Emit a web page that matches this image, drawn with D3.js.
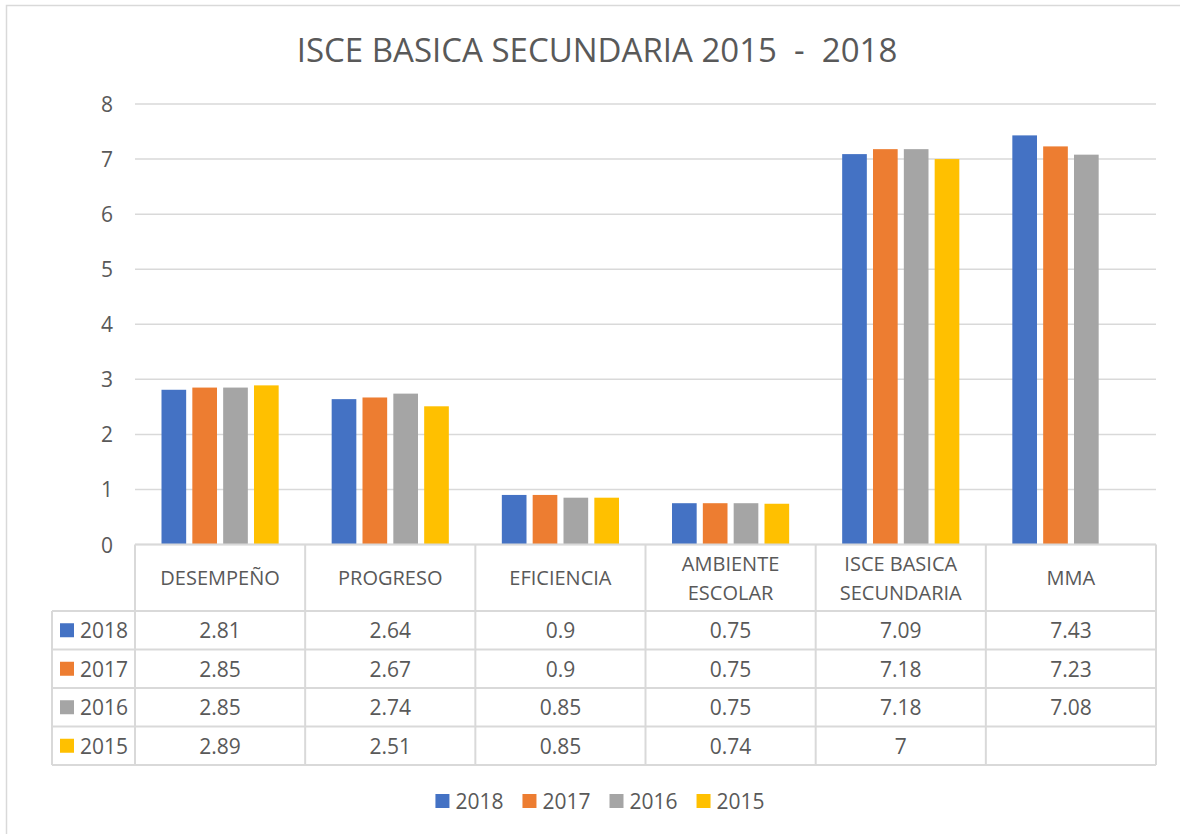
<!DOCTYPE html>
<html><head><meta charset="utf-8">
<script src="https://cdn.jsdelivr.net/npm/d3@7"></script>
<style>
body{margin:0;background:#fff}
svg{display:block}
text{font-family:"Open Sans",sans-serif;fill:#595959}
</style>
</head><body>
<svg id="c" width="1180" height="834"></svg>
<script>
const title = "ISCE BASICA SECUNDARIA 2015  -  2018";
const categories = ["DESEMPEÑO","PROGRESO","EFICIENCIA","AMBIENTE ESCOLAR","ISCE BASICA SECUNDARIA","MMA"];
const categoryLines = [["DESEMPEÑO"],["PROGRESO"],["EFICIENCIA"],["AMBIENTE","ESCOLAR"],["ISCE BASICA","SECUNDARIA"],["MMA"]];
const series = ["2018","2017","2016","2015"];
const values2018 = [2.81,2.64,0.9,0.75,7.09,7.43];
const values2017 = [2.85,2.67,0.9,0.75,7.18,7.23];
const values2016 = [2.85,2.74,0.85,0.75,7.18,7.08];
const values2015 = [2.89,2.51,0.85,0.74,7,null];
const colors = ["#4472C4","#ED7D31","#A5A5A5","#FFC000"];
const yTicks = [0,1,2,3,4,5,6,7,8];

const seriesValues = [values2018, values2017, values2016, values2015];
const data = [];
categories.forEach((c,i)=>series.forEach((s,j)=>{
  data.push({cat:c, ser:s, v:seriesValues[j][i], color:colors[j]});
}));

const svg = d3.select("#c");
const gridColor = "#d9d9d9";

// chart frame
svg.append("rect").attr("x",6.5).attr("y",5.5).attr("width",1300).attr("height",1000)
  .attr("fill","none").attr("stroke",gridColor).attr("stroke-width",1.5);

// title
svg.append("text").attr("x",597).attr("y",62).attr("text-anchor","middle")
  .style("font-size","33px").style("white-space","pre").text(title);

const left = 135, right = 1156;
const x0 = d3.scaleBand().domain(categories).range([left,right]).padding(0);
const x1 = d3.scaleBand().domain(series).range([26.5, x0.bandwidth()-26.5]).paddingInner(0.2).paddingOuter(0);
const y = d3.scaleLinear().domain([0,8]).range([544.5,104]);

// gridlines
svg.append("g").selectAll("line").data(yTicks).join("line")
  .attr("x1",left).attr("x2",right)
  .attr("y1",d=>y(d)).attr("y2",d=>y(d))
  .attr("stroke",gridColor).attr("stroke-width",1.5);

// y tick labels
svg.append("g").selectAll("text").data(yTicks).join("text")
  .attr("x",113).attr("y",d=>y(d)).attr("text-anchor","end")
  .attr("dominant-baseline","central").style("font-size","21px").text(d=>d);

// bars
svg.append("g").selectAll("rect").data(data.filter(d=>d.v!=null)).join("rect")
  .attr("x",d=>x0(d.cat)+x1(d.ser)).attr("width",x1.bandwidth())
  .attr("y",d=>y(d.v)).attr("height",d=>y(0)-y(d.v))
  .attr("fill",d=>d.color);

// data table
const headerBottom = 611, tableBottom = 765, tableLeft = 52;
const rows = d3.scaleBand().domain(series).range([headerBottom, tableBottom]);
const tg = svg.append("g");
tg.append("line").attr("x1",left).attr("x2",right).attr("y1",y(0)).attr("y2",y(0))
  .attr("stroke",gridColor).attr("stroke-width",2);
series.forEach(s=>{
  tg.append("line").attr("x1",tableLeft).attr("x2",right).attr("y1",rows(s)).attr("y2",rows(s))
    .attr("stroke",gridColor).attr("stroke-width",2);
});
tg.append("line").attr("x1",tableLeft).attr("x2",right).attr("y1",tableBottom).attr("y2",tableBottom)
  .attr("stroke",gridColor).attr("stroke-width",2);
categories.forEach(c=>{
  tg.append("line").attr("x1",x0(c)).attr("x2",x0(c)).attr("y1",y(0)).attr("y2",tableBottom)
    .attr("stroke",gridColor).attr("stroke-width",2);
});
tg.append("line").attr("x1",right).attr("x2",right).attr("y1",y(0)).attr("y2",tableBottom)
  .attr("stroke",gridColor).attr("stroke-width",2);
tg.append("line").attr("x1",tableLeft).attr("x2",tableLeft).attr("y1",headerBottom).attr("y2",tableBottom)
  .attr("stroke",gridColor).attr("stroke-width",2);

// header labels
const headerMid = (y(0)+headerBottom)/2;
categories.forEach((c,i)=>{
  const lines = categoryLines[i];
  const t = tg.append("text").attr("x",x0(c)+x0.bandwidth()/2).attr("text-anchor","middle")
    .style("font-size","20px");
  lines.forEach((l,k)=>{
    t.append("tspan").attr("x",x0(c)+x0.bandwidth()/2)
      .attr("y",headerMid + (k-(lines.length-1)/2)*29)
      .attr("dominant-baseline","central").text(l);
  });
});
// row headers
series.forEach((s,j)=>{
  const cy = rows(s)+rows.bandwidth()/2;
  tg.append("rect").attr("x",60).attr("y",cy-7).attr("width",14).attr("height",14).attr("fill",colors[j]);
  tg.append("text").attr("x",80).attr("y",cy).attr("dominant-baseline","central")
    .style("font-size","21px").text(s);
});
// cell values
tg.selectAll("text.val").data(data.filter(d=>d.v!=null)).join("text").attr("class","val")
  .attr("x",d=>x0(d.cat)+x0.bandwidth()/2).attr("y",d=>rows(d.ser)+rows.bandwidth()/2)
  .attr("text-anchor","middle").attr("dominant-baseline","central")
  .style("font-size","21px").text(d=>d.v);

// legend
const lg = svg.append("g");
let lx = 0;
series.forEach((s,j)=>{
  const g = lg.append("g").attr("transform",`translate(${lx},0)`);
  g.append("rect").attr("x",0).attr("y",-7).attr("width",14).attr("height",14).attr("fill",colors[j]);
  const t = g.append("text").attr("x",20).attr("y",0).attr("dominant-baseline","central")
    .style("font-size","21px").text(s);
  lx += 20 + t.node().getComputedTextLength() + 19;
});
const lw = lx - 19;
lg.attr("transform",`translate(${600-lw/2},801)`);
</script>
</body></html>
